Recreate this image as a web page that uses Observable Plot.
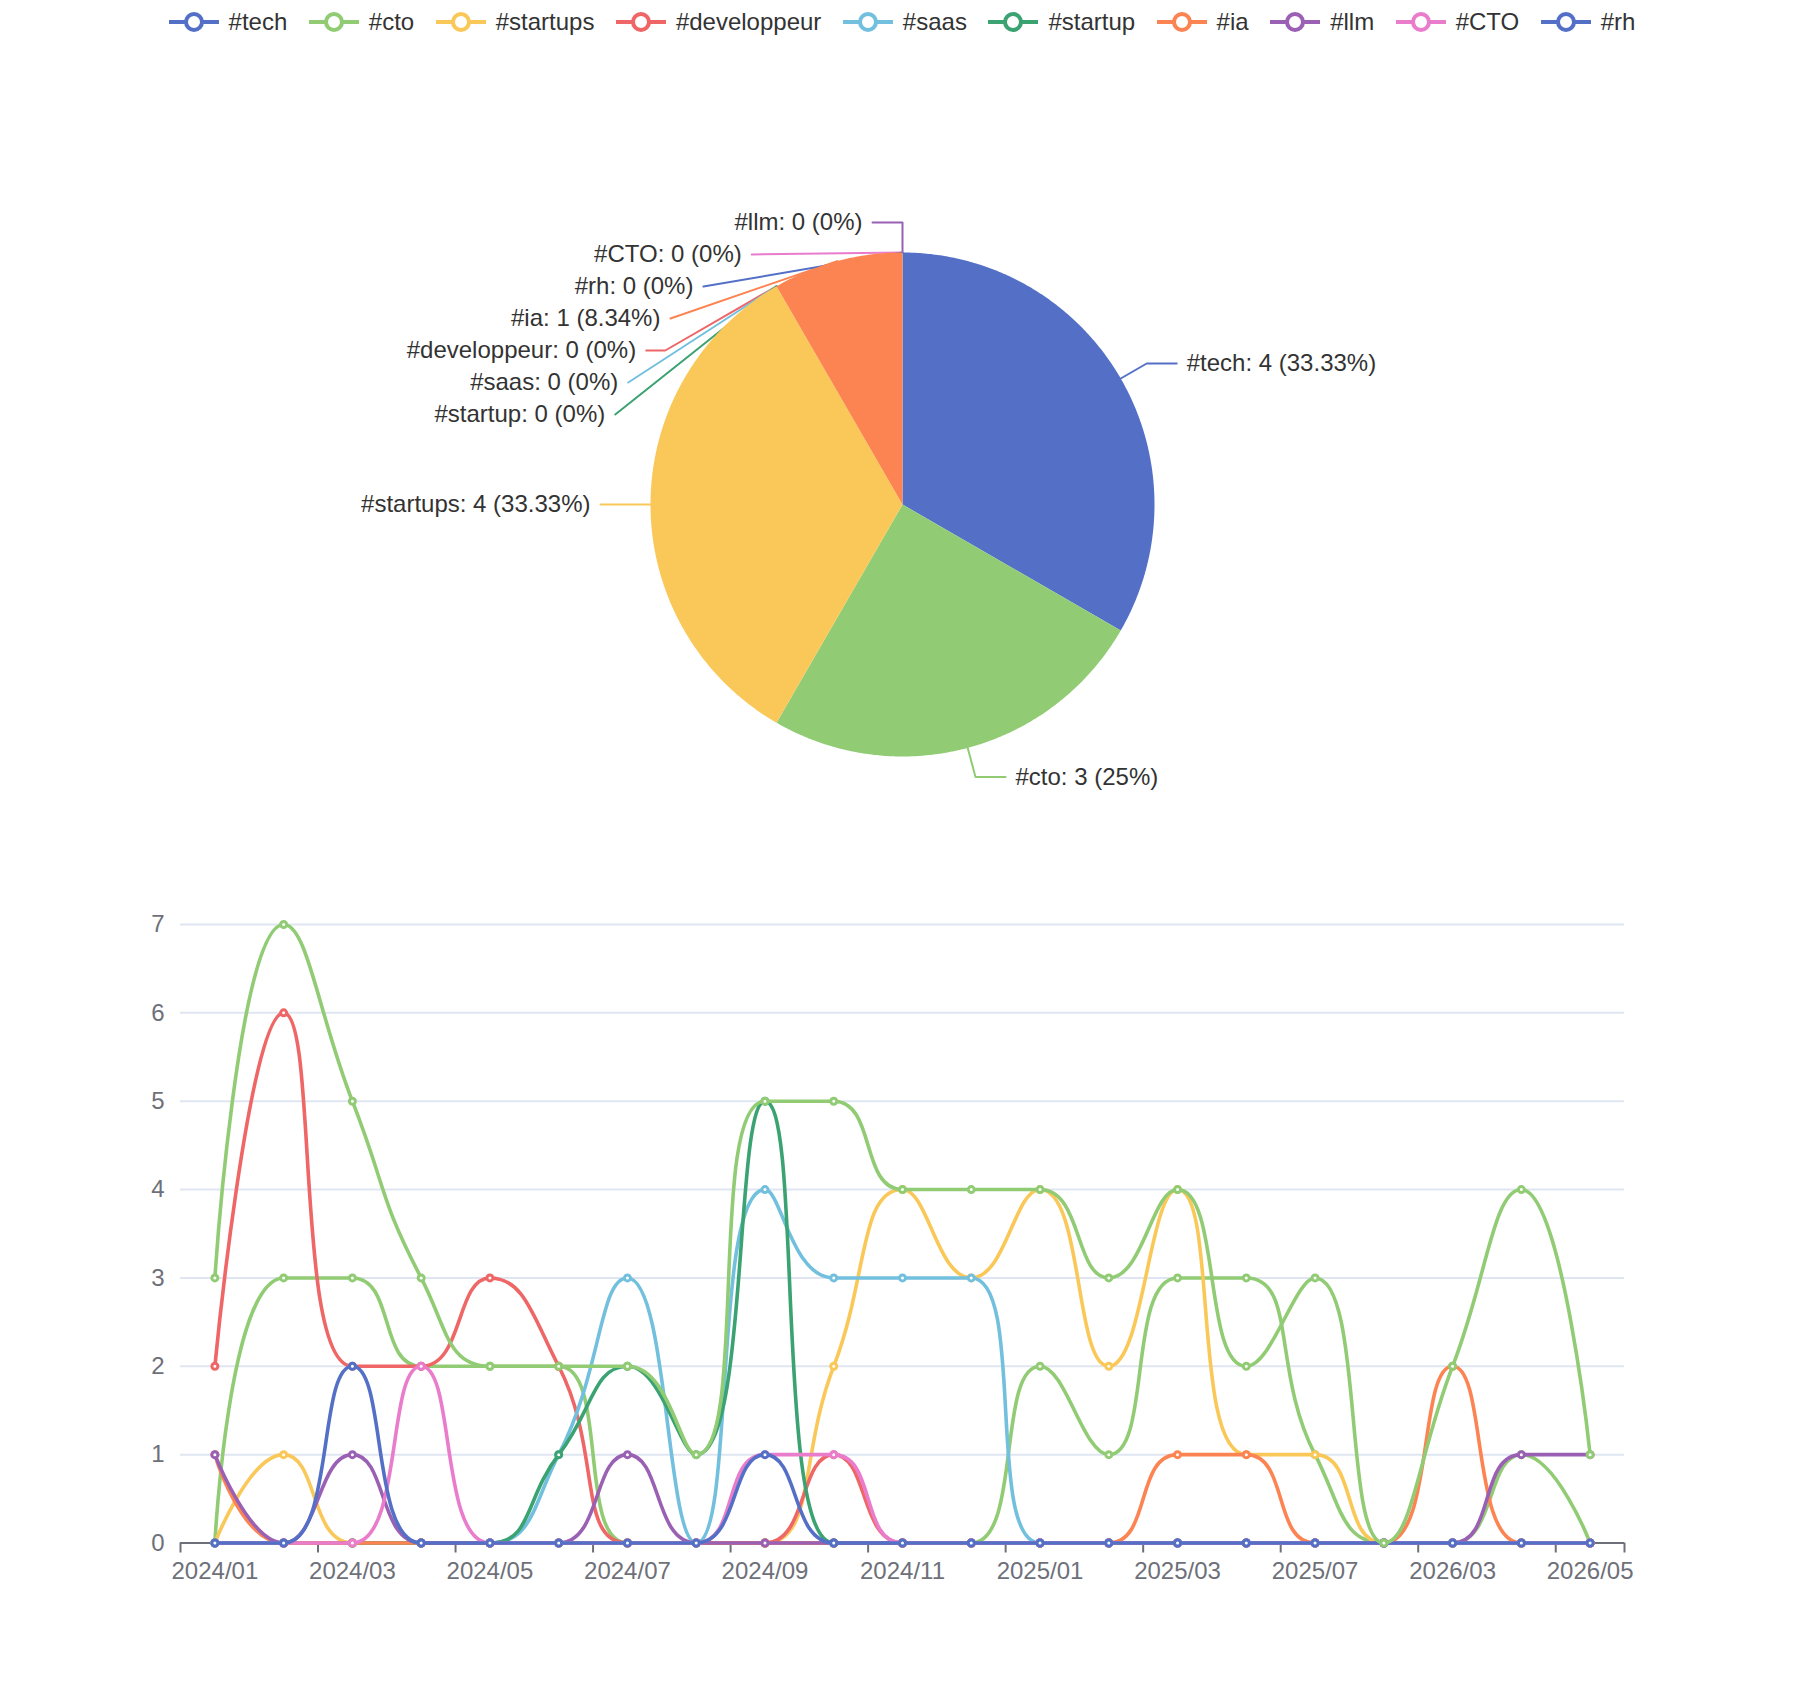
<!DOCTYPE html>
<html>
<head>
<meta charset="utf-8">
<script src="https://cdn.jsdelivr.net/npm/d3@7"></script>
<script src="https://cdn.jsdelivr.net/npm/@observablehq/plot@0.6"></script>
<style>
  html, body { margin: 0; padding: 0; background: #fff; }
  body {
    width: 1804px; height: 1682px; position: relative; overflow: hidden;
    font-family: "Liberation Sans", Arial, Helvetica, sans-serif;
  }
  #legend {
    position: absolute; left: 0; top: 8px; width: 1804px; height: 28px;
    display: flex; justify-content: center; align-items: center; gap: 21.5px;
  }
  .item { display: flex; align-items: center; gap: 10px; font-size: 24px; color: #333; line-height: 28px; }
  .item svg { display: block; overflow: visible; }
  #pie { position: absolute; left: 0; top: 0; }
  #lines { position: absolute; left: 0; top: 880px; }
  svg { overflow: visible; }
</style>
</head>
<body>
<div id="pie"></div>
<div id="lines"></div>
<div id="legend"></div>
<script>
// ---- data -------------------------------------------------------------
const palette = ["#5470c6", "#91cc75", "#fac858", "#ee6666", "#73c0de", "#3ba272", "#fc8452", "#9a60b4", "#ea7ccc"];

const tags = ["#tech", "#cto", "#startups", "#developpeur", "#saas", "#startup", "#ia", "#llm", "#CTO", "#rh"];
const pieValues = [4, 3, 4, 0, 0, 0, 1, 0, 0, 0];

const months = ["2024/01", "2024/02", "2024/03", "2024/04", "2024/05", "2024/06", "2024/07",
                "2024/08", "2024/09", "2024/10", "2024/11", "2024/12", "2025/01", "2025/02",
                "2025/03", "2025/05", "2025/07", "2025/09", "2026/03", "2026/04", "2026/05"];

const tech        = [0, 0, 0, 0, 0, 0, 0, 0, 0, 0, 0, 0, 0, 0, 0, 0, 0, 0, 0, 0, 0];
const cto         = [0, 3, 3, 2, 2, 2, 0, 0, 0, 0, 0, 0, 2, 1, 3, 3, 1, 0, 0, 1, 0];
const startups    = [0, 1, 0, 0, 0, 0, 0, 0, 0, 2, 4, 3, 4, 2, 4, 1, 1, 0, 0, 0, 0];
const developpeur = [2, 6, 2, 2, 3, 2, 0, 0, 0, 1, 0, 0, 0, 0, 0, 0, 0, 0, 0, 0, 0];
const saas        = [0, 0, 0, 0, 0, 1, 3, 0, 4, 3, 3, 3, 0, 0, 0, 0, 0, 0, 0, 0, 0];
const startup     = [0, 0, 0, 0, 0, 1, 2, 1, 5, 0, 0, 0, 0, 0, 0, 0, 0, 0, 0, 0, 0];
const ia          = [1, 0, 0, 0, 0, 0, 0, 0, 0, 0, 0, 0, 0, 0, 1, 1, 0, 0, 2, 0, 0];
const llm         = [1, 0, 1, 0, 0, 0, 1, 0, 0, 0, 0, 0, 0, 0, 0, 0, 0, 0, 0, 1, 1];
const CTO         = [0, 0, 0, 2, 0, 0, 0, 0, 1, 1, 0, 0, 0, 0, 0, 0, 0, 0, 0, 0, 0];
const rh          = [0, 0, 2, 0, 0, 0, 0, 0, 1, 0, 0, 0, 0, 0, 0, 0, 0, 0, 0, 0, 0];
const autres      = [3, 7, 5, 3, 2, 2, 2, 1, 5, 5, 4, 4, 4, 3, 4, 2, 3, 0, 2, 4, 1];

const lineSeries = [
  ["#tech", tech], ["#cto", cto], ["#startups", startups], ["#developpeur", developpeur],
  ["#saas", saas], ["#startup", startup], ["#ia", ia], ["#llm", llm], ["#CTO", CTO],
  ["#rh", rh], ["autres", autres]
];

const yTicks = [0, 1, 2, 3, 4, 5, 6, 7];

// ---- helpers ------------------------------------------------------------
const tagColors = tags.map((t, i) => palette[i % palette.length]);
const lineTags = lineSeries.map(d => d[0]);
const lineColors = lineSeries.map((d, i) => palette[i % palette.length]);
const FONT = "'Liberation Sans', Arial, Helvetica, sans-serif";

// Smoothed polyline with clamped control points (no overshoot between points).
function SmoothClamped(context) { this._context = context; }
SmoothClamped.prototype = {
  areaStart() {}, areaEnd() {},
  lineStart() { this._pts = []; },
  point(x, y) { this._pts.push([+x, +y]); },
  lineEnd() {
    const p = this._pts, ctx = this._context, smooth = 0.5;
    if (!p.length) return;
    ctx.moveTo(p[0][0], p[0][1]);
    let c0x = p[0][0], c0y = p[0][1];
    for (let k = 1; k < p.length; k++) {
      const [x, y] = p[k], [px, py] = p[k - 1];
      let c1x, c1y, nx0 = x, ny0 = y;
      if (k === p.length - 1) { c1x = x; c1y = y; }
      else {
        const [nx, ny] = p[k + 1];
        let vx = nx - px, vy = ny - py;
        const lenPrev = Math.hypot(x - px, y - py);
        const lenNext = Math.hypot(nx - x, ny - y);
        const ratio = lenNext / (lenNext + lenPrev);
        nx0 = x + vx * smooth * ratio; ny0 = y + vy * smooth * ratio;
        nx0 = Math.max(Math.min(nx0, Math.max(nx, x)), Math.min(nx, x));
        ny0 = Math.max(Math.min(ny0, Math.max(ny, y)), Math.min(ny, y));
        vx = nx0 - x; vy = ny0 - y;
        c1x = x - vx * lenPrev / lenNext; c1y = y - vy * lenPrev / lenNext;
        c1x = Math.max(Math.min(c1x, Math.max(px, x)), Math.min(px, x));
        c1y = Math.max(Math.min(c1y, Math.max(py, y)), Math.min(py, y));
        vx = x - c1x; vy = y - c1y;
        nx0 = x + vx * lenNext / lenPrev; ny0 = y + vy * lenNext / lenPrev;
      }
      ctx.bezierCurveTo(c0x, c0y, c1x, c1y, x, y);
      c0x = nx0; c0y = ny0;
    }
  }
};
const curveSmooth = ctx => new SmoothClamped(ctx);

// Percentages rounded with the largest-remainder method so they add to 100.
function percentSeats(values, precision) {
  const sum = d3.sum(values);
  const digits = Math.pow(10, precision);
  const votes = values.map(v => v / sum * digits * 100);
  const target = digits * 100;
  const seats = votes.map(Math.floor);
  let cur = d3.sum(seats);
  const rem = votes.map((v, i) => v - seats[i]);
  while (cur < target) {
    let max = -Infinity, id = -1;
    for (let i = 0; i < rem.length; i++) if (rem[i] > max) { max = rem[i]; id = i; }
    ++seats[id]; rem[id] = 0; ++cur;
  }
  return seats.map(s => s / digits);
}

// Projection of point (x, y) onto the line through (x1, y1)-(x2, y2).
function project(x1, y1, x2, y2, x, y) {
  const dx = x2 - x1, dy = y2 - y1;
  const t = ((x - x1) * dx + (y - y1) * dy) / (dx * dx + dy * dy);
  const px = x1 + t * dx, py = y1 + t * dy;
  return {px, py, d: Math.hypot(x - px, y - py)};
}

// Keep the first leg of a leader line from bending back into the slice.
function limitSurfaceAngle(pts, nx, ny, maxAngleDeg) {
  const maxA = maxAngleDeg / 180 * Math.PI;
  const [p0, p1, p2] = pts;
  let d1x = p1[0] - p0[0], d1y = p1[1] - p0[1];
  let d2x = p2[0] - p1[0], d2y = p2[1] - p1[1];
  const l1 = Math.hypot(d1x, d1y), l2 = Math.hypot(d2x, d2y);
  if (l1 < 1e-3 || l2 < 1e-3) return;
  d1x /= l1; d1y /= l1; d2x /= l2; d2y /= l2;
  if (d1x * nx + d1y * ny < Math.cos(maxA)) {
    const {px, py, d} = project(p1[0], p1[1], p2[0], p2[1], p0[0], p0[1]);
    const angle2 = Math.acos(Math.max(-1, Math.min(1, d2x * nx + d2y * ny)));
    const newAngle = Math.PI / 2 + angle2 - maxA;
    let qx, qy;
    if (newAngle >= Math.PI / 2) { qx = p2[0]; qy = p2[1]; }
    else {
      qx = px + d2x * d / Math.tan(Math.PI / 2 - newAngle);
      qy = py + d2y * d / Math.tan(Math.PI / 2 - newAngle);
      const t = p2[0] !== p1[0] ? (qx - p1[0]) / (p2[0] - p1[0]) : (qy - p1[1]) / (p2[1] - p1[1]);
      if (isNaN(t)) return;
      if (t < 0) { qx = p1[0]; qy = p1[1]; }
      else if (t > 1) { qx = p2[0]; qy = p2[1]; }
    }
    pts[1] = [qx, qy];
  }
}

// Keep the elbow of a leader line from turning sharper than the given angle.
function limitTurnAngle(pts, minAngleDeg) {
  const minA = minAngleDeg / 180 * Math.PI;
  const [p0, p1, p2] = pts;
  let ax = p0[0] - p1[0], ay = p0[1] - p1[1];
  let bx = p2[0] - p1[0], by = p2[1] - p1[1];
  const la = Math.hypot(ax, ay), lb = Math.hypot(bx, by);
  if (la < 1e-3 || lb < 1e-3) return;
  ax /= la; ay /= la; bx /= lb; by /= lb;
  if (Math.cos(minA) < ax * bx + ay * by) {
    const {px, py, d} = project(p1[0], p1[1], p2[0], p2[1], p0[0], p0[1]);
    let qx = px + bx * d / Math.tan(Math.PI - minA);
    let qy = py + by * d / Math.tan(Math.PI - minA);
    const t = p2[0] !== p1[0] ? (qx - p1[0]) / (p2[0] - p1[0]) : (qy - p1[1]) / (p2[1] - p1[1]);
    if (isNaN(t)) return;
    if (t < 0) { qx = p1[0]; qy = p1[1]; }
    else if (t > 1) { qx = p2[0]; qy = p2[1]; }
    pts[1] = [qx, qy];
  }
}

// ---- legend -------------------------------------------------------------
const legend = d3.select("#legend");
tags.forEach((t, i) => {
  const c = tagColors[i];
  const item = legend.append("div").attr("class", "item");
  const s = item.append("svg").attr("width", 50).attr("height", 28);
  s.append("line").attr("x1", 0).attr("x2", 50).attr("y1", 14).attr("y2", 14)
    .attr("stroke", c).attr("stroke-width", 4);
  s.append("circle").attr("cx", 25).attr("cy", 14).attr("r", 8)
    .attr("fill", "#fff").attr("stroke", c).attr("stroke-width", 4);
  item.append("span").text(t);
});

// ---- pie ----------------------------------------------------------------
const cx = 902, cy = 504, R = 252, len1 = 30, len2 = 30, labelGap = 10, labelH = 32;
const pct = percentSeats(pieValues, 2);
const arcs = d3.pie().value(d => d).sort(null)(pieValues);

const sliceRows = [];
arcs.forEach((a, i) => {
  if (a.endAngle - a.startAngle <= 0) return;
  const n = Math.max(2, Math.ceil((a.endAngle - a.startAngle) / (Math.PI / 360)));
  sliceRows.push({tag: tags[i], x: cx, y: cy});
  for (let k = 0; k <= n; k++) {
    const t = a.startAngle + (a.endAngle - a.startAngle) * k / n;
    sliceRows.push({tag: tags[i], x: cx + R * Math.sin(t), y: cy - R * Math.cos(t)});
  }
});

const labels = arcs.map((a, i) => {
  const mid = (a.startAngle + a.endAngle) / 2;
  const dir = mid > Math.PI ? -1 : 1;
  const sx = Math.sin(mid), sy = -Math.cos(mid);
  const x2 = cx + (R + len1) * sx, y2 = cy + (R + len1) * sy;
  const x3 = x2 + dir * len2;
  return {
    tag: tags[i], dir, nx: sx, ny: sy,
    text: `${tags[i]}: ${pieValues[i]} (${pct[i]}%)`,
    x1: cx + R * sx, y1: cy + R * sy, x2, x3,
    lx: x3 + dir * labelGap, ly: y2
  };
});

// Keep labels on each side from overlapping, then slide them along an ellipse.
function adjustSide(list, dir) {
  if (list.length < 2) return;
  list.sort((a, b) => a.ly - b.ly);
  let shifted = false, last = -Infinity;
  for (const it of list) {
    const top = it.ly - labelH / 2;
    if (top < last) { it.ly += last - top; shifted = true; }
    last = it.ly + labelH / 2;
  }
  if (!shifted) return;
  const rA = R + len1;
  for (const inSemi of [it => it.ly <= cy, it => it.ly > cy]) {
    const semi = list.filter(inSemi);
    if (!semi.length) continue;
    let maxY = 0, rB = rA;
    for (const it of semi) {
      const dy = Math.abs(it.ly - cy);
      if (dy >= maxY) {
        const dx = it.lx - cx - len2 * dir;
        rB = Math.abs(dx) < rA ? Math.sqrt(dy * dy / (1 - dx * dx / rA / rA)) : rA;
        maxY = dy;
      }
    }
    for (const it of semi) {
      const dy = Math.abs(it.ly - cy);
      const ex = Math.sqrt(Math.max(0, 1 - dy * dy / (rB * rB)) * rA * rA);
      it.lx = cx + (ex + len2) * dir;
    }
  }
}
adjustSide(labels.filter(d => d.dir < 0), -1);
adjustSide(labels.filter(d => d.dir > 0), 1);

const leaderRows = labels.flatMap(d => {
  const endX = d.lx - d.dir * labelGap;
  const midX = endX + (d.x2 - d.x3);
  const pts = [[d.x1, d.y1], [midX, d.ly], [endX, d.ly]];
  limitTurnAngle(pts, 90);
  limitSurfaceAngle(pts, d.nx, d.ny, 90);
  return pts.map(([x, y]) => ({tag: d.tag, x, y}));
});

const pieChart = Plot.plot({
  width: 1804, height: 880, margin: 0,
  x: {type: "identity", axis: null},
  y: {type: "identity", axis: null},
  color: {domain: tags, range: tagColors},
  style: {fontFamily: FONT, background: "transparent", overflow: "visible"},
  marks: [
    Plot.line(leaderRows, {x: "x", y: "y", z: "tag", stroke: "tag", strokeWidth: 2}),
    Plot.line(sliceRows, {x: "x", y: "y", z: "tag", fill: "tag", stroke: "none", curve: "linear-closed"}),
    Plot.text(labels.filter(d => d.dir < 0), {x: "lx", y: "ly", text: "text", textAnchor: "end", fill: "#333", fontSize: 24}),
    Plot.text(labels.filter(d => d.dir > 0), {x: "lx", y: "ly", text: "text", textAnchor: "start", fill: "#333", fontSize: 24})
  ]
});
document.getElementById("pie").append(pieChart);

// ---- monthly lines ------------------------------------------------------
const rows = lineSeries.flatMap(([tag, values]) => values.map((v, i) => ({tag, i, v})));
const boundaries = d3.range(-0.5, months.length - 1, 2).concat([months.length - 0.5]);
const labelIdx = d3.range(0, months.length, 2);

const lineChart = Plot.plot({
  width: 1804, height: 802,
  marginLeft: 180, marginRight: 180, marginTop: 44, marginBottom: 139.5,
  x: {type: "linear", domain: [-0.5, months.length - 0.5], axis: null},
  y: {domain: [0, 7], axis: null},
  color: {domain: lineTags, range: lineColors},
  style: {fontFamily: FONT, background: "transparent", overflow: "visible"},
  marks: [
    Plot.gridY(yTicks.slice(1), {stroke: "#e0e6f1", strokeOpacity: 1, strokeWidth: 2}),
    Plot.axisY(yTicks, {tickSize: 0, tickPadding: 16, tickFormat: d => String(d), fontSize: 24, color: "#6e7079", fill: "#6e7079", label: null}),
    Plot.axisX(boundaries, {tickSize: 10, tickFormat: () => "", stroke: "#6e7079", strokeWidth: 2, strokeOpacity: 1, label: null}),
    Plot.axisX(labelIdx, {tickSize: 0, tickPadding: 19, tickFormat: i => months[i], fontSize: 24, color: "#6e7079", fill: "#6e7079", label: null}),
    Plot.ruleY([0], {stroke: "#6e7079", strokeWidth: 2}),
    ...lineTags.flatMap(tag => {
      const data = rows.filter(d => d.tag === tag);
      return [
        Plot.line(data, {x: "i", y: "v", stroke: "tag", strokeWidth: 3.6, curve: curveSmooth}),
        Plot.dot(data, {x: "i", y: "v", r: 3, fill: "#fff", stroke: "tag", strokeWidth: 3})
      ];
    })
  ]
});
document.getElementById("lines").append(lineChart);
</script>
</body>
</html>
